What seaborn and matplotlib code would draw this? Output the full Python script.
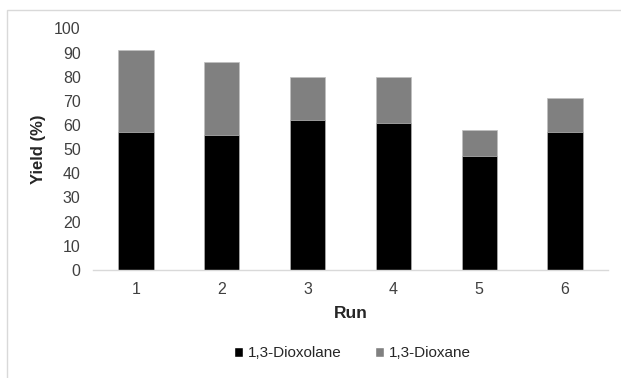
import seaborn as sns
import pandas as pd
import matplotlib.pyplot as plt
from matplotlib.patches import Rectangle, Patch

# Dados
runs = ["1", "2", "3", "4", "5", "6"]
dioxolane = [57, 56, 62, 61, 47, 57]
dioxane = [34, 30, 18, 19, 11, 14]

df = pd.DataFrame({"run": runs, "dioxolane": dioxolane, "dioxane": dioxane})
df["total"] = df["dioxolane"] + df["dioxane"]

sns.set_style("white")
plt.rcParams["font.family"] = ["Liberation Sans", "DejaVu Sans"]

fig = plt.figure(figsize=(6.21, 3.78), dpi=100)
ax = fig.add_axes([0.150, 0.286, 0.829, 0.639])

# barras empilhadas: total em cinza, dioxolano em preto por cima
sns.barplot(data=df, x="run", y="total", color="#808080", saturation=1,
            width=0.41, edgecolor="#bfbfbf", linewidth=0.5, ax=ax)
sns.barplot(data=df, x="run", y="dioxolane", color="#000000", saturation=1,
            width=0.41, edgecolor="#bfbfbf", linewidth=0.5, ax=ax)

ax.set_ylim(0, 100)
ax.set_xlim(-0.5, 5.5)
ax.set_yticks(range(0, 101, 10))
ax.tick_params(axis="both", length=0, labelsize=11.5, colors="#404040")
ax.tick_params(axis="y", pad=9)
ax.tick_params(axis="x", pad=9)
for s in ["top", "right", "left"]:
    ax.spines[s].set_visible(False)
ax.spines["bottom"].set_color("#d9d9d9")
ax.spines["bottom"].set_linewidth(1)

ax.set_xlabel("Run", fontsize=12.5, fontweight="bold", color="#262626", labelpad=6)
ax.set_ylabel("Yield (%)", fontsize=12, fontweight="bold", color="#262626", labelpad=6)

handles = [Patch(facecolor="#000000", label="1,3-Dioxolane"),
           Patch(facecolor="#808080", label="1,3-Dioxane")]
fig.legend(handles=handles, loc="center", bbox_to_anchor=(0.567, 0.066), ncol=2,
           frameon=False, fontsize=11, handlelength=0.6, handleheight=0.6,
           handletextpad=0.3, columnspacing=2.2, labelcolor="#262626")

# moldura externa cinza clara
fig.patches.append(Rectangle((0.012, -0.02), 1.0, 0.994, transform=fig.transFigure,
                             fill=False, edgecolor="#d9d9d9", linewidth=1))

fig.savefig("out.png", dpi=100)
